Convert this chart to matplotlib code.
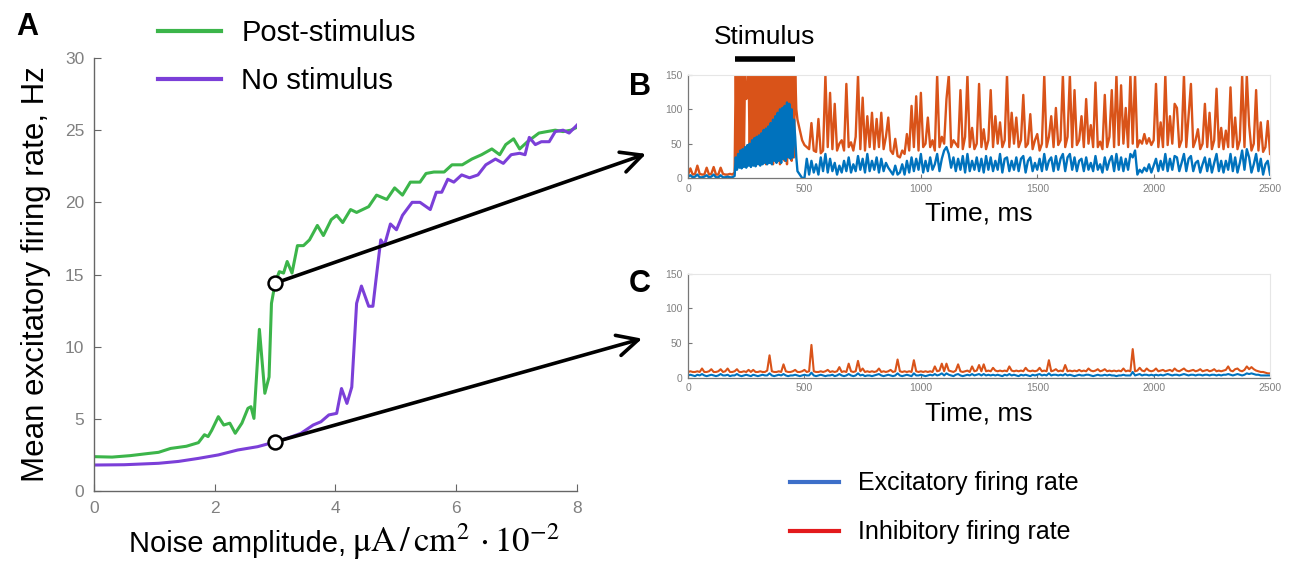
import numpy as np
import matplotlib
matplotlib.use("Agg")
import matplotlib.pyplot as plt
from matplotlib.lines import Line2D

plt.rcParams['font.family'] = ['Liberation Sans', 'DejaVu Sans']
plt.rcParams['mathtext.fontset'] = 'stix'

# ---- Panel A data: mean excitatory rate vs noise amplitude ----
noise_post = [0.0, 0.3, 0.6, 0.9, 1.07, 1.27, 1.53, 1.73, 1.83, 1.89, 1.95,
              2.06, 2.15, 2.25, 2.34, 2.45, 2.55, 2.6, 2.65, 2.74, 2.83, 2.9, 2.94,
              3.0, 3.07, 3.14, 3.2, 3.28, 3.37, 3.47, 3.57, 3.7, 3.8, 3.93,
              4.02, 4.12, 4.25, 4.35, 4.55, 4.68, 4.85, 4.98,
              5.11, 5.24, 5.4, 5.5, 5.63, 5.8, 5.93,
              6.1, 6.26, 6.42, 6.59, 6.72, 6.82, 6.95,
              7.05, 7.18, 7.37, 7.5, 7.64, 7.77, 7.9, 8.0]
rate_post = [2.38, 2.35, 2.45, 2.6, 2.68, 2.95, 3.1, 3.35, 3.9, 3.77, 4.2,
             5.15, 4.57, 4.7, 4.0, 4.7, 5.73, 5.84, 5.03, 11.2, 6.77, 7.9, 13.0,
             14.4, 15.2, 15.1, 15.9, 15.1, 17.0, 17.0, 17.4, 18.4, 17.7, 18.8,
             19.1, 18.6, 19.5, 19.3, 19.7, 20.5, 20.2, 21.0,
             20.5, 21.4, 21.4, 22.0, 22.1, 22.1, 22.6,
             22.6, 23.0, 23.3, 23.7, 23.3, 24.0, 24.4,
             23.7, 24.2, 24.8, 24.9, 25.0, 24.9, 25.0, 25.2]

noise_base = [0.0, 0.5, 1.07, 1.4, 1.73, 2.06, 2.38, 2.71, 3.0, 3.2,
              3.43, 3.63, 3.76, 3.89, 4.02, 4.1, 4.19, 4.27, 4.35, 4.43,
              4.55, 4.62, 4.67, 4.75, 4.81, 4.91, 5.01, 5.11, 5.27, 5.4,
              5.57, 5.67, 5.76, 5.86, 5.96, 6.09, 6.22, 6.36, 6.49, 6.65,
              6.78, 6.91, 7.05, 7.14, 7.21, 7.31, 7.41, 7.54, 7.64, 7.77,
              7.87, 8.0]
rate_base = [1.8, 1.82, 1.92, 2.05, 2.26, 2.5, 2.84, 3.07, 3.4, 3.65,
             4.0, 4.57, 4.8, 5.27, 5.38, 7.1, 6.07, 7.2, 13.0, 14.2,
             12.8, 12.8, 14.6, 17.4, 17.0, 18.5, 18.1, 19.1, 20.0, 20.0,
             19.5, 20.7, 20.7, 21.6, 21.4, 21.9, 21.7, 21.9, 22.6, 23.0,
             22.7, 23.3, 23.4, 23.3, 24.5, 24.0, 24.2, 24.2, 24.9, 25.0,
             24.8, 25.35]

marked_noise = 3.0
marked_post = 14.4
marked_base = 3.4

# ---- Panel B: post-stimulus run ----
# before stimulus: 0..190 ms, 10 ms bins
inh_B_pre = [5, 14, 5, 6, 18, 6, 5, 5, 15, 5,
             6, 16, 5, 5, 15, 6, 5, 5, 6, 5]
exc_B_pre = [2, 4, 1, 2, 5, 1, 1, 2, 4, 1,
             2, 5, 1, 1, 4, 1, 1, 2, 1, 1]
# stimulus epoch: 200..470 ms, 5 ms bins
inh_B_stim = [8, 160, 20, 160, 25, 160, 20, 160, 30, 160,
              115, 118, 160, 25, 160, 20, 160, 30, 160, 25,
              160, 20, 160, 30, 160, 25, 160, 20, 160, 30,
              160, 25, 160, 20, 160, 30, 160, 25, 160, 20,
              160, 30, 160, 25, 160, 20, 160, 30, 160, 25,
              160, 30, 160, 100, 85]
exc_B_stim = [3, 30, 12, 35, 15, 40, 14, 42, 16, 45,
              15, 48, 18, 50, 16, 55, 18, 58, 17, 60,
              20, 62, 18, 65, 20, 70, 22, 72, 20, 75,
              22, 80, 20, 85, 25, 90, 22, 95, 25, 100,
              22, 102, 28, 105, 25, 110, 30, 108, 28, 100,
              30, 85, 60, 30, 10]
# after stimulus: 480..2500 ms, 10 ms bins
inh_B_post = [70, 55,
              48, 45, 42, 80, 40, 38, 86, 36, 40, 150,
              45, 124, 42, 108, 40, 50, 55, 40, 137, 45,
              52, 40, 60, 150, 42, 117, 40, 90, 45, 95,
              42, 86, 45, 95, 42, 60, 88, 40, 35, 57,
              32, 30, 40, 35, 64, 40, 105, 45, 119, 40,
              124, 45, 50, 88, 45, 55, 40, 150, 45, 60,
              50, 115, 150, 45, 55, 50, 45, 128, 42, 60,
              150, 45, 73, 42, 50, 137, 45, 71, 42, 55,
              128, 45, 90, 50, 81, 45, 55, 150, 45, 95,
              50, 88, 45, 55, 121, 45, 50, 93, 42, 55,
              64, 40, 50, 150, 45, 60, 90, 45, 102, 48,
              55, 150, 45, 60, 150, 45, 128, 48, 55, 90,
              45, 115, 50, 77, 45, 139, 45, 53, 42, 121,
              45, 60, 128, 45, 150, 48, 135, 50, 102, 45,
              150, 50, 150, 45, 55, 50, 64, 50, 58, 48,
              55, 137, 45, 81, 45, 150, 48, 90, 50, 108,
              102, 45, 55, 150, 45, 90, 137, 45, 55, 71,
              42, 50, 108, 45, 95, 42, 55, 130, 45, 73,
              42, 69, 45, 132, 45, 88, 42, 55, 150, 45,
              150, 77, 40, 50, 128, 40, 81, 38, 45, 83,
              35]
exc_B_post = [5, 0,
              0, 28, 5, 25, 8, 20, 5, 30, 10, 35,
              8, 28, 10, 22, 5, 18, 8, 25, 10, 30,
              8, 20, 10, 32, 12, 28, 8, 35, 10, 25,
              12, 30, 8, 28, 10, 22, 15, 10, 5, 18,
              5, 8, 20, 5, 25, 8, 30, 10, 28, 12,
              35, 8, 25, 10, 30, 12, 20, 35, 10, 28,
              40, 45, 35, 15, 30, 10, 28, 12, 32, 8,
              35, 10, 25, 12, 30, 10, 28, 8, 32, 12,
              30, 10, 25, 12, 35, 8, 28, 30, 10, 25,
              12, 30, 10, 28, 32, 8, 25, 30, 10, 22,
              12, 28, 10, 35, 12, 25, 30, 10, 32, 12,
              28, 35, 10, 30, 35, 12, 30, 10, 25, 28,
              10, 30, 12, 22, 10, 32, 12, 20, 8, 30,
              12, 25, 32, 10, 35, 12, 30, 10, 28, 12,
              35, 30, 40, 5, 12, 8, 15, 10, 20, 8,
              18, 28, 10, 25, 12, 35, 10, 28, 12, 32,
              30, 10, 22, 35, 10, 28, 32, 10, 22, 25,
              8, 20, 30, 10, 28, 8, 22, 35, 10, 25,
              8, 25, 12, 35, 10, 30, 8, 22, 40, 12,
              42, 30, 8, 20, 35, 10, 28, 5, 20, 25,
              5]

# ---- Panel C: no-stimulus run, 10 ms bins (0..2500 ms) ----
inh_C = [8, 9, 8, 8, 9, 8, 13, 8, 8, 9,
         12, 8, 8, 9, 12, 8, 9, 13, 8, 8,
         9, 12, 8, 8, 9, 8, 11, 8, 11, 8,
         8, 9, 8, 8, 10, 32, 9, 8, 8, 9,
         8, 19, 9, 8, 8, 9, 11, 8, 8, 9,
         11, 8, 9, 47, 9, 8, 8, 9, 8, 9,
         11, 8, 9, 8, 9, 15, 8, 9, 8, 20,
         9, 8, 9, 24, 9, 13, 8, 9, 8, 9,
         8, 9, 13, 8, 9, 8, 9, 11, 8, 9,
         26, 9, 8, 9, 8, 9, 8, 25, 9, 8,
         9, 8, 9, 8, 9, 8, 16, 9, 10, 20,
         9, 20, 10, 9, 8, 10, 19, 9, 8, 9,
         10, 8, 16, 9, 10, 18, 9, 19, 9, 10,
         9, 14, 10, 9, 10, 9, 10, 9, 16, 10,
         9, 10, 9, 10, 9, 14, 10, 9, 10, 9,
         10, 14, 9, 10, 9, 25, 9, 10, 12, 9,
         10, 9, 18, 9, 10, 9, 10, 9, 11, 9,
         10, 9, 13, 10, 9, 10, 12, 9, 10, 12,
         9, 10, 9, 10, 9, 10, 9, 13, 9, 10,
         9, 41, 9, 10, 14, 10, 9, 13, 10, 9,
         10, 13, 9, 10, 11, 9, 10, 11, 9, 13,
         10, 9, 11, 13, 10, 9, 10, 11, 9, 10,
         12, 9, 10, 11, 9, 10, 12, 9, 10, 9,
         10, 11, 16, 10, 9, 12, 13, 10, 9, 11,
         16, 12, 15, 12, 10, 9, 8, 8, 7, 6,
         6]
exc_C = [3, 4, 3, 2, 4, 3, 5, 3, 2, 3,
         4, 3, 2, 3, 5, 3, 3, 4, 2, 3,
         3, 5, 3, 2, 3, 4, 3, 2, 4, 3,
         2, 3, 4, 3, 3, 6, 3, 2, 3, 4,
         3, 5, 3, 2, 3, 3, 4, 3, 2, 3,
         4, 3, 3, 7, 3, 2, 3, 4, 3, 2,
         3, 3, 4, 2, 3, 5, 3, 2, 3, 5,
         3, 2, 3, 6, 3, 4, 2, 3, 3, 2,
         3, 4, 5, 3, 2, 3, 4, 3, 2, 3,
         6, 3, 2, 3, 4, 3, 2, 6, 3, 3,
         4, 3, 2, 3, 4, 3, 5, 3, 4, 6,
         3, 6, 4, 3, 2, 4, 5, 3, 2, 3,
         4, 3, 5, 3, 4, 5, 3, 5, 3, 4,
         3, 4, 3, 4, 3, 2, 4, 3, 5, 3,
         4, 3, 2, 4, 3, 4, 3, 2, 4, 3,
         4, 5, 3, 4, 3, 6, 3, 4, 4, 3,
         4, 3, 5, 3, 4, 3, 2, 3, 4, 3,
         3, 4, 4, 3, 2, 3, 4, 3, 3, 4,
         3, 4, 3, 3, 2, 3, 3, 4, 3, 3,
         3, 8, 3, 4, 5, 3, 4, 4, 3, 4,
         3, 4, 3, 4, 3, 4, 5, 4, 3, 4,
         4, 3, 4, 5, 4, 3, 4, 4, 3, 4,
         4, 3, 4, 4, 3, 4, 4, 3, 4, 3,
         4, 4, 5, 4, 3, 4, 5, 4, 3, 4,
         6, 5, 6, 5, 4, 4, 3, 3, 3, 3,
         3]

stimulus_ms = [200, 460]

# colours
c_post = '#3cb54a'
c_base = '#7b3fd8'
c_exc = '#0072bd'
c_inh = '#d95319'
tick_gray = '#808080'


def epoch_times(pre, stim, post):
    t_pre = np.arange(len(pre)) * 10
    t_stim = 200 + np.arange(len(stim)) * 5
    t_post = 480 + np.arange(len(post)) * 10
    return np.concatenate([t_pre, t_stim, t_post])


t_B = epoch_times(inh_B_pre, inh_B_stim, inh_B_post)
inh_B = inh_B_pre + inh_B_stim + inh_B_post
exc_B = exc_B_pre + exc_B_stim + exc_B_post

fig = plt.figure(figsize=(12.96, 5.72), dpi=100)

# ---------------- Panel A ----------------
axA = fig.add_axes([0.0725, 0.1416, 0.3727, 0.757])
axA.plot(noise_post, rate_post, color=c_post, lw=2.2)
axA.plot(noise_base, rate_base, color=c_base, lw=2.2)
axA.set_xlim(0, 8)
axA.set_ylim(0, 30)
axA.set_xticks([0, 2, 4, 6, 8])
axA.set_yticks([0, 5, 10, 15, 20, 25, 30])
for s in ['top', 'right']:
    axA.spines[s].set_visible(False)
for s in ['left', 'bottom']:
    axA.spines[s].set_color('#666666')
    axA.spines[s].set_linewidth(1.0)
axA.tick_params(direction='in', length=5, colors='#666666', labelcolor=tick_gray,
                labelsize=12.5, pad=7)
axA.set_ylabel("Mean excitatory firing rate, Hz", fontsize=22.5, labelpad=10)

# x label: sans text followed by a larger serif unit expression
axA.text(0.523, -0.142, "Noise amplitude,", transform=axA.transAxes,
         fontsize=21, ha='right', va='baseline')
axA.text(0.535, -0.142, r"$\mathrm{\mu A}\,/\,\mathrm{cm}^2\,\cdot10^{-2}$",
         transform=axA.transAxes, fontsize=25, ha='left', va='baseline')

# marked points and arrows to panels B and C
for r, tip in [(marked_post, (0.4985, 0.731)), (marked_base, (0.4955, 0.408))]:
    axA.annotate('', xy=tip, xycoords='figure fraction',
                 xytext=(marked_noise, r), textcoords='data',
                 arrowprops=dict(arrowstyle='->, head_length=1.0, head_width=0.5',
                                 lw=2.6, color='black', shrinkA=0, shrinkB=0,
                                 mutation_scale=15),
                 annotation_clip=False, zorder=5)
    axA.plot([marked_noise], [r], 'o', ms=10, mfc='white', mec='black', mew=1.8,
             zorder=6, clip_on=False)

legA = fig.legend(handles=[Line2D([], [], color=c_post, lw=3),
                           Line2D([], [], color=c_base, lw=3)],
                  labels=['Post-stimulus', 'No stimulus'],
                  loc='upper left', bbox_to_anchor=(0.122, 0.967),
                  frameon=False, fontsize=21, handlelength=2.15,
                  handletextpad=0.7, labelspacing=0.68, borderpad=0,
                  borderaxespad=0)

fig.text(0.021, 0.952, 'A', fontsize=22, fontweight='bold', ha='center', va='center')


# ---------------- Panels B and C ----------------
def trace_panel(ax, t, inh, exc, lw):
    ax.plot(t, inh, color=c_inh, lw=lw)
    ax.plot(t, exc, color=c_exc, lw=lw)
    ax.set_xlim(0, 2500)
    ax.set_ylim(0, 150)
    ax.set_xticks([0, 500, 1000, 1500, 2000, 2500])
    ax.set_yticks([0, 50, 100, 150])
    for s in ['top', 'right']:
        ax.spines[s].set_color('#e6e6e6')
        ax.spines[s].set_linewidth(0.8)
    for s in ['left', 'bottom']:
        ax.spines[s].set_color('#777777')
        ax.spines[s].set_linewidth(0.9)
    ax.tick_params(direction='in', length=3, colors='#777777', labelcolor=tick_gray,
                   labelsize=7.5, pad=4, top=False, right=False)
    ax.set_xlabel('Time, ms', fontsize=19, labelpad=6)


axB = fig.add_axes([0.5309, 0.6888, 0.4491, 0.1801])
trace_panel(axB, t_B, inh_B, exc_B, 1.7)
axB.plot(stimulus_ms, [173, 173], color='black', lw=4, clip_on=False,
         solid_capstyle='butt')
axB.text(np.mean(stimulus_ms), 205, 'Stimulus', fontsize=19, ha='center',
         va='center')

axC = fig.add_axes([0.5309, 0.34, 0.4491, 0.1818])
trace_panel(axC, np.arange(len(inh_C)) * 10, inh_C, exc_C, 1.5)

fig.text(0.494, 0.848, 'B', fontsize=22, fontweight='bold', ha='center', va='center')
fig.text(0.494, 0.503, 'C', fontsize=22, fontweight='bold', ha='center', va='center')

legBC = fig.legend(handles=[Line2D([], [], color='#3d6fc9', lw=3),
                            Line2D([], [], color='#e31a1c', lw=3)],
                   labels=['Excitatory firing rate', 'Inhibitory firing rate'],
                   loc='upper left', bbox_to_anchor=(0.6096, 0.176),
                   frameon=False, fontsize=18, handlelength=1.95,
                   handletextpad=0.75, labelspacing=1.0, borderpad=0,
                   borderaxespad=0)

fig.savefig('out.png', dpi=100)
